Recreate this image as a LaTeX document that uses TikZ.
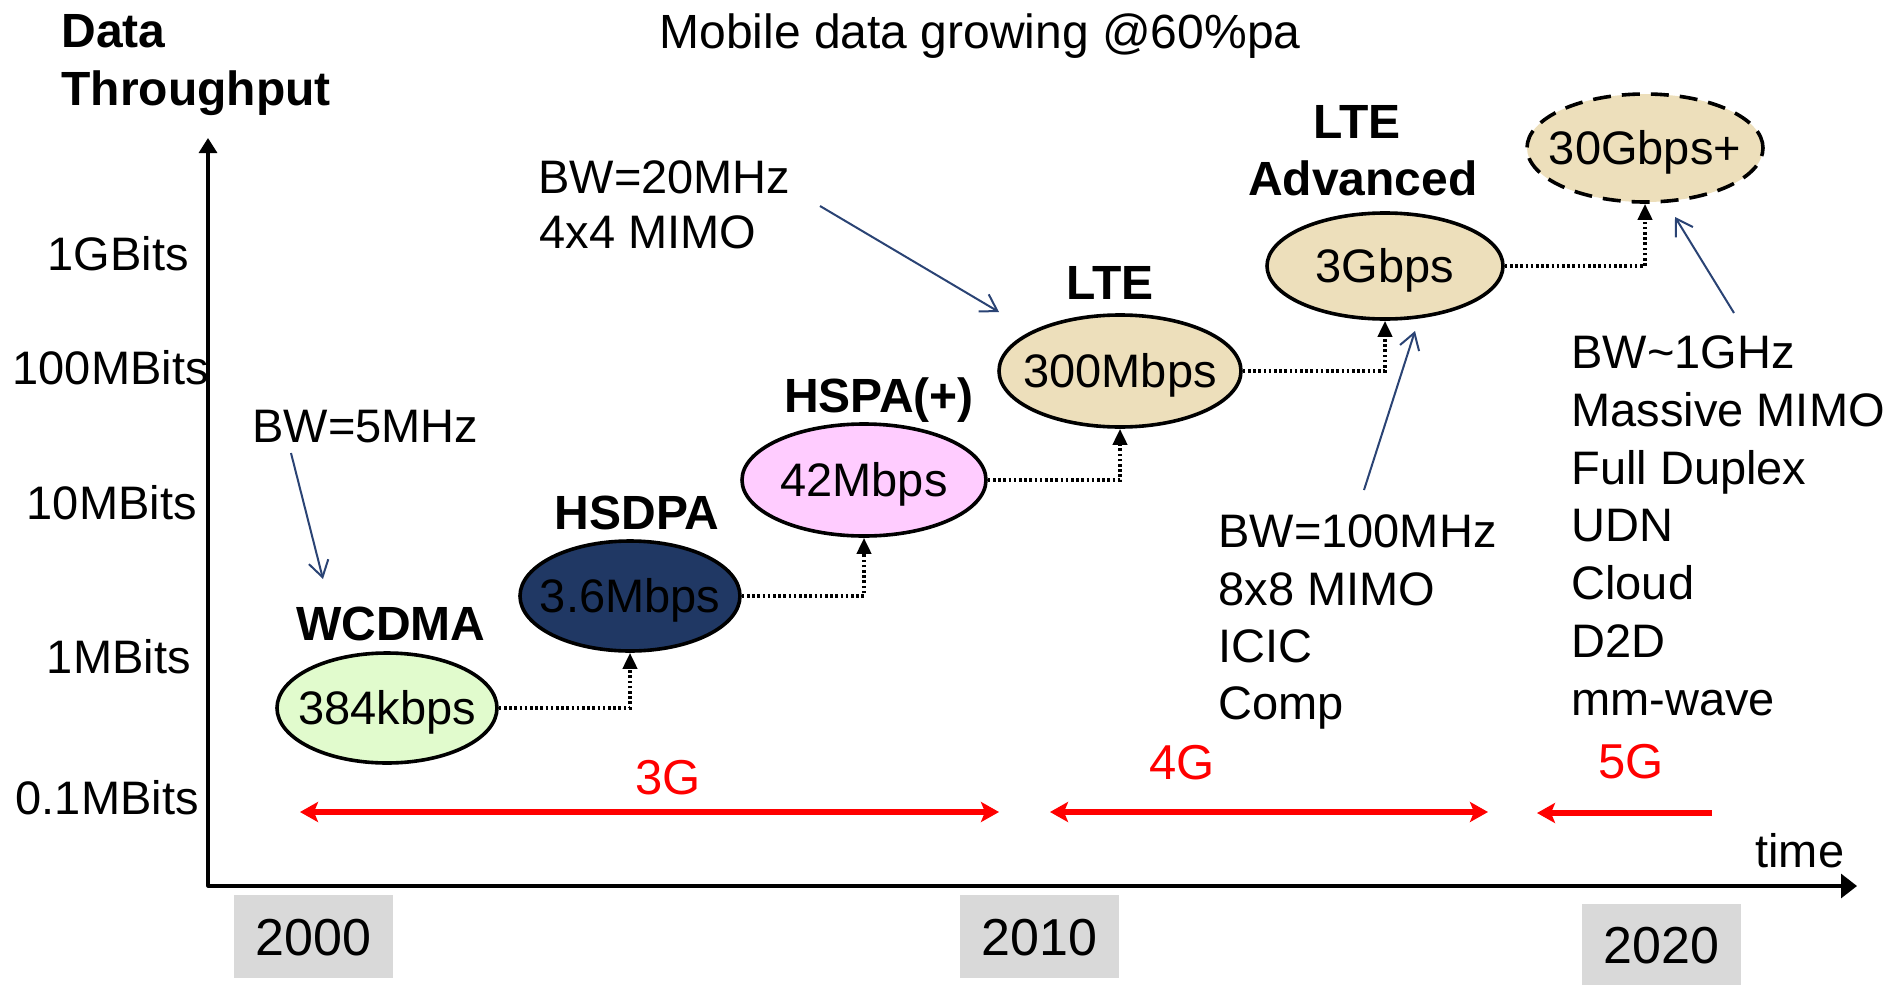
\documentclass[tikz,border=0pt]{standalone}
\usepackage{fontspec}
\setmainfont{Liberation Sans}
\usetikzlibrary{arrows.meta,shapes.geometric}
\definecolor{wgreen}{HTML}{E1FBCD}
\definecolor{hnavy}{HTML}{203864}
\definecolor{hpink}{HTML}{FFCCFF}
\definecolor{ltan}{HTML}{EDDFBB}
\definecolor{ygray}{HTML}{D9D9D9}
\definecolor{notecol}{HTML}{2A4374}
\definecolor{gred}{HTML}{FF0000}
\tikzset{gtip/.tip={Stealth[length=9pt,width=10pt,inset=2pt]}}
\begin{document}
\begin{tikzpicture}[x=0.5pt,y=-0.5pt,
  txt/.style={inner sep=0pt, font=\fontsize{23.5}{28}\selectfont, text height=16.8pt, text depth=0pt},
  lbl/.style={txt, font=\fontsize{24}{28}\selectfont\bfseries, text height=17.2pt},
  bubble/.style={ellipse, draw=black, line width=1.8pt, inner sep=0pt},
  conn/.style={line width=1.9pt, dash pattern=on 1.3pt off 1.3pt, -{Triangle[length=8pt,width=7pt]}},
  note/.style={draw=notecol, line width=1pt, -{Straight Barb[length=8pt,width=10pt]}},
  gband/.style={draw=gred, line width=3pt},
  glabel/.style={txt, text=gred, font=\fontsize{24.5}{28}\selectfont, text height=17.5pt},
  yearbox/.style={fill=ygray, inner sep=0pt, minimum width=79.5pt, minimum height=41.5pt,
    font=\fontsize{26}{30}\selectfont, text height=18.6pt, text depth=0pt},
  axis/.style={line width=1.6pt, line join=round}
]
\useasboundingbox (0,0) rectangle (1896,985);

% title and axis title
\node[txt, font=\fontsize{24}{28}\selectfont, text height=17.2pt] (title) at (980,31) {Mobile data growing @60\%pa};
\node[lbl, anchor=west] (ydata) at (61,30) {Data};
\node[lbl, anchor=west] (ythr) at (61,88) {Throughput};

% axes
\coordinate (ytip) at (208,138);
\coordinate (orig) at (208,886);
\coordinate (xtip) at (1857,886);
\draw[axis, {Triangle[length=7.5pt,width=9pt]}-{Triangle[length=8pt,width=12pt]}] (ytip) -- (orig) -- (xtip);

% y labels
\node[txt, anchor=east] (y1) at (189,254) {1GBits};
\node[txt, anchor=east] (y2) at (209,368) {100MBits};
\node[txt, anchor=east] (y3) at (197,503) {10MBits};
\node[txt, anchor=east] (y4) at (191,657) {1MBits};
\node[txt, anchor=east] (y5) at (199,798) {0.1MBits};
\node[txt, anchor=west] (time) at (1755,851) {time};

% bubbles
\node[bubble, fill=wgreen, minimum width=110pt, minimum height=55pt] (e1) at (387,708) {};
\node[bubble, fill=hnavy, minimum width=110pt, minimum height=55pt] (e2) at (630,596) {};
\node[bubble, fill=hpink, minimum width=122pt, minimum height=56pt] (e3) at (864,480) {};
\node[bubble, fill=ltan, minimum width=121pt, minimum height=56pt] (e4) at (1120,371) {};
\node[bubble, fill=ltan, minimum width=118pt, minimum height=53pt] (e5) at (1385,266) {};
\node[bubble, fill=ltan, minimum width=118pt, minimum height=54pt, dash pattern=on 9pt off 5.5pt] (e6) at (1645,148) {};

\node[txt] (t1) at (e1) {384kbps};
\node[txt] (t2) at (e2) {3.6Mbps};
\node[txt] (t3) at (e3) {42Mbps};
\node[txt] (t4) at (e4) {300Mbps};
\node[txt] (t5) at (e5) {3Gbps};
\node[txt] (t6) at (e6) {30Gbps+};

% technology labels
\node[lbl] (l1) at (391,623) {WCDMA};
\node[lbl] (l2) at (637,512) {HSDPA};
\node[lbl] (l3) at (879,395) {HSPA(+)};
\node[lbl] (l4) at (1110,282) {LTE};
\node[lbl] (l5a) at (1357,121) {LTE};
\node[lbl] (l5b) at (1363,178) {Advanced};

% dotted steps
\draw[conn] (e1.east) -| (e2.south);
\draw[conn] (e2.east) -| (e3.south);
\draw[conn] (e3.east) -| (e4.south);
\draw[conn] (e4.east) -| (e5.south);
\draw[conn] (e5.east) -| (e6.south);

% annotations
\node[txt, anchor=west] (n1) at (252,426) {BW=5MHz};
\node[txt, anchor=west] (n2a) at (538,177) {BW=20MHz};
\node[txt, anchor=west] (n2b) at (539,232) {4x4 MIMO};
\foreach \t [count=\i] in {BW=100MHz,8x8 MIMO,ICIC,Comp}
  \node[txt, anchor=west] (n3\i) at (1218,{531+57.3*(\i-1)}) {\t};
\foreach \t [count=\i] in {BW\textasciitilde1GHz,Massive MIMO,Full Duplex,UDN,Cloud,D2D,mm-wave}
  \node[txt, anchor=west] (n4\i) at (1571,{352+57.7*(\i-1)}) {\t};

\coordinate (a1s) at (291,453); \coordinate (a1e) at (323,579);
\coordinate (a2s) at (820,206); \coordinate (a2e) at (999,312);
\coordinate (a3s) at (1364,490); \coordinate (a3e) at (1415,331);
\coordinate (a4s) at (1734,313); \coordinate (a4e) at (1675,217);
\draw[note] (a1s) -- (a1e);
\draw[note] (a2s) -- (a2e);
\draw[note] (a3s) -- (a3e);
\draw[note] (a4s) -- (a4e);

% generations
\coordinate (g3a) at (300,812); \coordinate (g3b) at (999,812);
\coordinate (g4a) at (1050,812); \coordinate (g4b) at (1488,812);
\coordinate (g5a) at (1712,813); \coordinate (g5b) at (1537,813);
\draw[gband, gtip-gtip] (g3a) -- (g3b);
\draw[gband, gtip-gtip] (g4a) -- (g4b);
\draw[gband, -gtip] (g5a) -- (g5b);
\node[glabel] (g3) at (668,777) {3G};
\node[glabel] (g4) at (1182,762) {4G};
\node[glabel] (g5) at (1631,761) {5G};

% years
\node[yearbox] (y2000) at (313.5,936.5) {2000};
\node[yearbox] (y2010) at (1039.5,936.5) {2010};
\node[yearbox] (y2020) at (1661.5,945) {2020};
\end{tikzpicture}
\end{document}
